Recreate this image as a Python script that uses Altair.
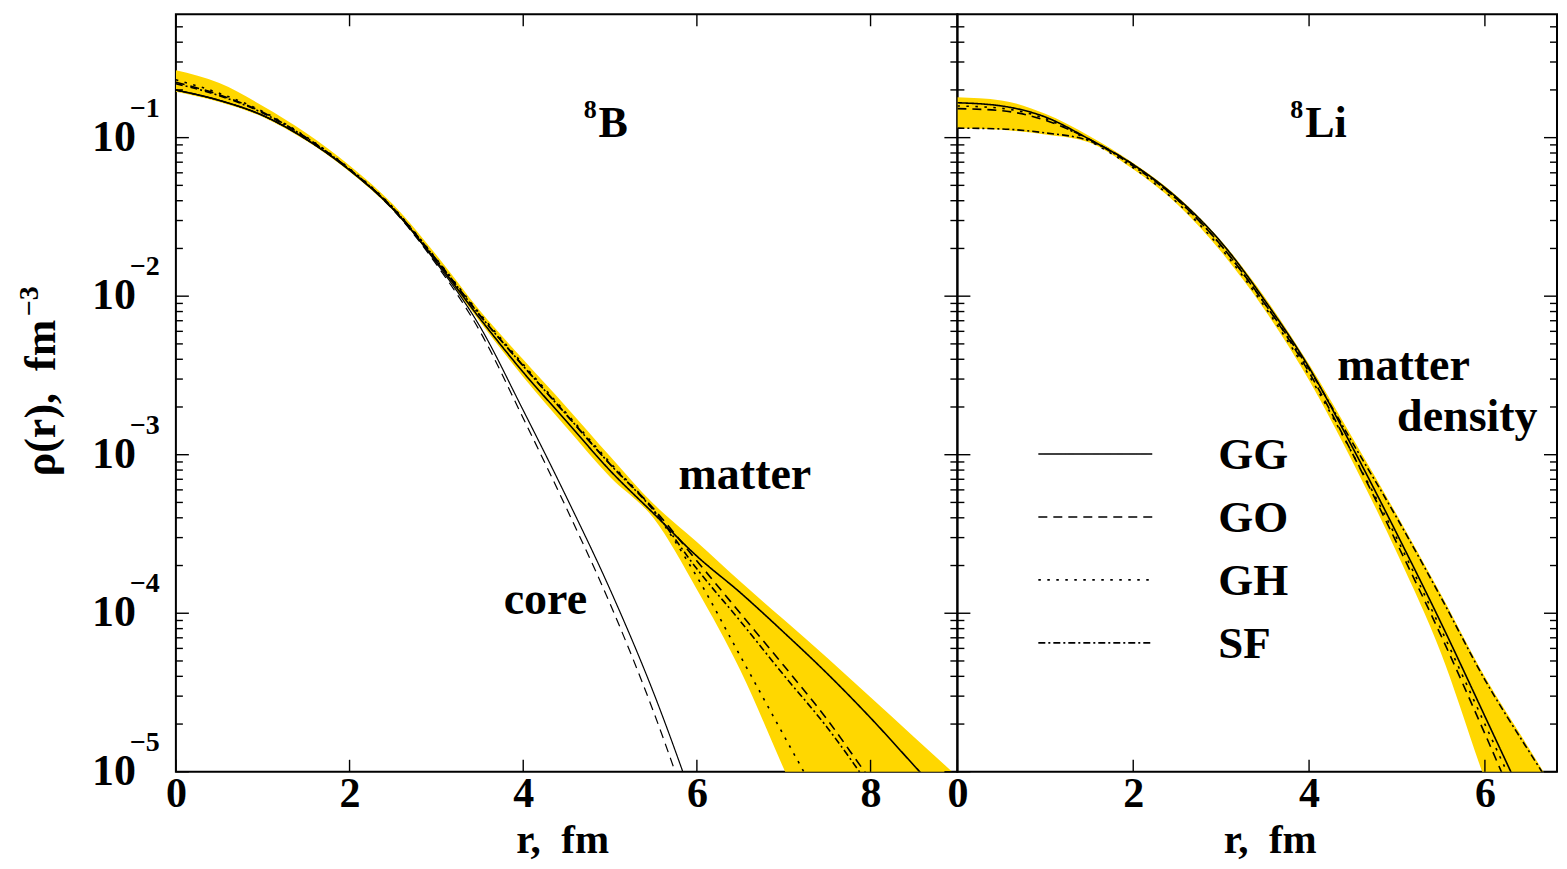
import altair as alt
import pandas as pd

# ---------------- data (log10 of density) ----------------
MODELS = ["GG", "GO", "GH", "SF"]
DASHES = [[1, 0], [9, 6], [2.5, 6.5], [7, 3, 2, 3]]

# 8B panel
R_B = [0, 0.5, 1, 1.5, 2, 2.5, 3, 3.5, 4, 4.5, 5, 5.5, 6, 6.5, 7, 7.5, 8, 8.5, 9]
B_GG = [-0.70, -0.765, -0.86, -1.01, -1.205, -1.45, -1.78, -2.14, -2.48, -2.79, -3.10, -3.37, -3.64, -3.87, -4.12, -4.38, -4.66, -4.96, -5.26]
B_GO = [-0.65, -0.73, -0.84, -1.00, -1.20, -1.445, -1.77, -2.12, -2.44, -2.75, -3.06, -3.34, -3.67, -4.00, -4.33, -4.67, -5.05, -5.4, -5.8]
B_GH = [-0.635, -0.72, -0.835, -0.995, -1.195, -1.44, -1.765, -2.11, -2.43, -2.74, -3.05, -3.35, -3.77, -4.27, -4.77, -5.27, -5.8, -6.3, -6.8]
B_SF = [-0.66, -0.735, -0.845, -1.00, -1.20, -1.445, -1.77, -2.12, -2.44, -2.75, -3.06, -3.35, -3.72, -4.05, -4.39, -4.72, -5.1, -5.5, -5.9]
B_BAND_HI = [-0.575, -0.655, -0.80, -0.97, -1.175, -1.42, -1.74, -2.09, -2.40, -2.70, -3.01, -3.31, -3.55, -3.80, -4.04, -4.28, -4.53, -4.78, -5.03]
B_BAND_LO = [-0.71, -0.775, -0.87, -1.02, -1.215, -1.46, -1.79, -2.16, -2.51, -2.83, -3.14, -3.40, -3.85, -4.36, -4.98, -5.6, -6.2, -6.8, -7.4]

R_CORE = [0, 0.5, 1, 1.5, 2, 2.5, 3, 3.5, 4, 4.5, 5, 5.5, 6]
CORE_GG = [-0.70, -0.765, -0.86, -1.01, -1.205, -1.45, -1.79, -2.19, -2.72, -3.27, -3.85, -4.50, -5.25]
CORE_GO = [-0.70, -0.765, -0.86, -1.01, -1.205, -1.455, -1.80, -2.22, -2.77, -3.34, -3.94, -4.62, -5.4]

# 8Li panel
R_LI = [0, 0.5, 1, 1.5, 2, 2.5, 3, 3.5, 4, 4.5, 5, 5.5, 6, 6.5, 7]
LI_GG = [-0.78, -0.80, -0.87, -1.01, -1.17, -1.38, -1.66, -2.03, -2.45, -2.96, -3.50, -4.06, -4.65, -5.25, -5.9]
LI_GO = [-0.817, -0.83, -0.89, -1.01, -1.17, -1.39, -1.68, -2.05, -2.48, -3.00, -3.56, -4.14, -4.76, -5.4, -6.0]
LI_GH = [-0.80, -0.815, -0.88, -1.02, -1.19, -1.41, -1.70, -2.07, -2.50, -3.00, -3.53, -4.10, -4.70, -5.3, -5.9]
LI_SF = [-0.94, -0.945, -0.97, -1.02, -1.18, -1.39, -1.68, -2.05, -2.46, -2.93, -3.40, -3.90, -4.42, -4.87, -5.3]
LI_BAND_HI = [-0.745, -0.765, -0.85, -0.99, -1.16, -1.37, -1.65, -2.01, -2.43, -2.90, -3.38, -3.88, -4.40, -4.85, -5.3]
LI_BAND_LO = [-0.94, -0.95, -0.98, -1.03, -1.20, -1.42, -1.72, -2.09, -2.53, -3.05, -3.62, -4.25, -5.05, -5.8, -6.5]

DECADES = [-1, -2, -3, -4, -5]
X_TICKS_B = [0, 2, 4, 6, 8]
X_TICKS_LI = [0, 2, 4, 6]
Y_DOMAIN = [1e-5, 0.6]
XDOM_B = [0, 9]
XDOM_LI = [0, 6.82]

# ---------------- tables ----------------
def long_table(r, series):
    rows = []
    for name, vals in series:
        for ri, v in zip(r, vals):
            rows.append({"r": ri, "rho": 10 ** v, "model": name})
    return pd.DataFrame(rows)

lines_B = long_table(R_B, zip(MODELS, [B_GG, B_GO, B_GH, B_SF]))
lines_LI = long_table(R_LI, zip(MODELS, [LI_GG, LI_GO, LI_GH, LI_SF]))
core_B = long_table(R_CORE, [("GG", CORE_GG), ("GO", CORE_GO)])
band_B = pd.DataFrame({"r": R_B, "lo": [10 ** v for v in B_BAND_LO], "hi": [10 ** v for v in B_BAND_HI]})
band_LI = pd.DataFrame({"r": R_LI, "lo": [10 ** v for v in LI_BAND_LO], "hi": [10 ** v for v in LI_BAND_HI]})

major = pd.DataFrame({"v": [10.0 ** d for d in DECADES]})
minor = pd.DataFrame({"v": [k * 10.0 ** d for d in DECADES for k in range(2, 10) if k * 10.0 ** d < Y_DOMAIN[1]]})
ylabels = pd.DataFrame({"v": [10.0 ** d for d in DECADES],
                        "base": ["10"] * len(DECADES),
                        "exp": ["\u2212" + str(-d) for d in DECADES]})
one = pd.DataFrame({"a": [0]})

FONT = "Liberation Serif"
NB = "\u00a0"
W_B, W_LI, H = 782, 600, 758
MAJ, MIN = 13, 7

yscale = alt.Scale(type="log", domain=Y_DOMAIN, nice=False)
dash_scale = alt.Scale(domain=MODELS, range=DASHES)


def xaxis(values):
    return alt.Axis(values=values, ticks=False, domain=False, grid=False,
                    labelFont=FONT, labelFontWeight="bold", labelFontSize=42,
                    labelColor="black", labelPadding=2, labelFlush=False,
                    labelOverlap=False, title=None, format="d")


def text(txt, x, y, size, align="left", baseline="alphabetic", angle=0):
    return alt.Chart(one).mark_text(
        text=txt, font=FONT, fontWeight="bold", fontSize=size, align=align,
        baseline=baseline, angle=angle, color="black"
    ).encode(x=alt.value(x), y=alt.value(y))


def panel(lines, band, xdom, xticks, width, core=None, left=False):
    xs = alt.Scale(domain=xdom, nice=False, zero=False)
    ax = xaxis(xticks)
    X = lambda f: alt.X(f, scale=xs, axis=ax)
    Y = lambda f: alt.Y(f, scale=yscale, axis=None)

    layers = []
    layers.append(alt.Chart(band).mark_area(clip=True, interpolate="monotone", color="#FFD700", opacity=1)
                  .encode(x=X("r:Q"), y=Y("lo:Q"), y2="hi:Q"))
    if core is not None:
        layers.append(alt.Chart(core).mark_line(clip=True, interpolate="monotone", color="black", strokeWidth=1.2)
                      .encode(x=X("r:Q"), y=Y("rho:Q"), detail="model:N",
                              strokeDash=alt.StrokeDash("model:N", scale=dash_scale, legend=None)))
    layers.append(alt.Chart(lines).mark_line(clip=True, interpolate="monotone", color="black", strokeWidth=1.6)
                  .encode(x=X("r:Q"), y=Y("rho:Q"), detail="model:N",
                          strokeDash=alt.StrokeDash("model:N", scale=dash_scale, legend=None)))
    # y ticks on the left and right edges (inward)
    for df, ln in ((major, MAJ), (minor, MIN)):
        layers.append(alt.Chart(df).mark_rule(color="black", strokeWidth=1.4)
                      .encode(y=Y("v:Q"), x=alt.value(0), x2=alt.value(ln)))
        layers.append(alt.Chart(df).mark_rule(color="black", strokeWidth=1.4)
                      .encode(y=Y("v:Q"), x=alt.value(width), x2=alt.value(width - ln)))
    # x ticks bottom and top (inward)
    xt = pd.DataFrame({"r": xticks})
    layers.append(alt.Chart(xt).mark_rule(color="black", strokeWidth=1.4)
                  .encode(x=X("r:Q"), y=alt.value(H), y2=alt.value(H - 12)))
    layers.append(alt.Chart(xt).mark_rule(color="black", strokeWidth=1.4)
                  .encode(x=X("r:Q"), y=alt.value(0), y2=alt.value(12)))
    if left:
        layers.append(alt.Chart(ylabels).mark_text(font=FONT, fontWeight="bold", fontSize=44, align="right",
                                                   baseline="middle", color="black")
                      .encode(y=Y("v:Q"), x=alt.value(-40), text="base:N"))
        layers.append(alt.Chart(ylabels).mark_text(font=FONT, fontWeight="bold", fontSize=28, align="left",
                                                   baseline="middle", color="black", dy=-29)
                      .encode(y=Y("v:Q"), x=alt.value(-46), text="exp:N"))
    return layers


TITLE_Y = H + 81
TITLE_SIZE = 41
left_layers = panel(lines_B, band_B, XDOM_B, X_TICKS_B, W_B, core=core_B, left=True)
left_layers += [
    text("\u03c1(r)," + NB + NB + "fm", -121, 384, 44, align="center", angle=270),
    text("\u22123", -138, 302, 28, align="left", angle=270),
    text("8", 408, 104, 26),
    text("B", 423, 123, 44),
    text("matter", 503, 475, 46),
    text("core", 328, 600, 46),
    text("r," + NB + NB + "fm", 387, TITLE_Y, TITLE_SIZE, align="center"),
]
left = alt.layer(*left_layers).properties(width=W_B, height=H)

right_layers = panel(lines_LI, band_LI, XDOM_LI, X_TICKS_LI, W_LI)
right_layers += [
    text("8", 333, 104, 26),
    text("Li", 348, 123, 44),
    text("matter", 380, 366, 46),
    text("density", 440, 417, 46),
    text("r," + NB + NB + "fm", 313, TITLE_Y, TITLE_SIZE, align="center"),
]
for i, (m, d) in enumerate(zip(MODELS, DASHES)):
    yy = 440 + 63 * i
    right_layers.append(alt.Chart(one).mark_rule(color="black", strokeWidth=1.6, strokeDash=d)
                        .encode(x=alt.value(81), x2=alt.value(195), y=alt.value(yy)))
    right_layers.append(text(m, 261, yy + 15, 45))
right = alt.layer(*right_layers).properties(width=W_LI, height=H)

chart = (alt.hconcat(left, right, spacing=0, bounds="flush")
         .properties(padding={"left": 7, "top": 4, "right": 0, "bottom": 1})
         .configure(background="white")
         .configure_view(stroke="black", strokeWidth=2))

chart.save("out.html", embed_options={"renderer": "svg", "actions": False})
